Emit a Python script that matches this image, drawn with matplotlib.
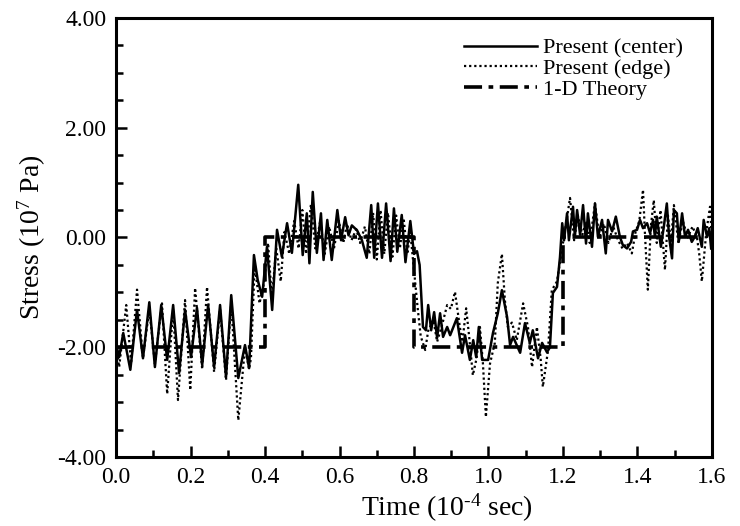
import matplotlib
matplotlib.use("Agg")
import matplotlib.pyplot as plt
from matplotlib.ticker import MultipleLocator

plt.rcParams['font.family'] = ['Liberation Serif', 'DejaVu Serif']
plt.rcParams['mathtext.fontset'] = 'custom'
plt.rcParams['mathtext.rm'] = 'Liberation Serif'
plt.rcParams['mathtext.it'] = 'Liberation Serif:italic'
plt.rcParams['axes.unicode_minus'] = False

# Present (center)
t_center = [0.0, 0.008, 0.019, 0.038, 0.056, 0.072, 0.089, 0.104, 0.121, 0.137, 0.153, 0.169,
            0.185, 0.201, 0.217, 0.231, 0.247, 0.263, 0.279, 0.295, 0.309, 0.328, 0.346, 0.357,
            0.370, 0.380, 0.392, 0.405, 0.419, 0.432, 0.445, 0.459, 0.472, 0.489, 0.501, 0.512,
            0.519, 0.528, 0.539, 0.550, 0.557, 0.567, 0.579, 0.594, 0.604, 0.615, 0.624, 0.633,
            0.647, 0.660, 0.673, 0.685, 0.693, 0.703, 0.714, 0.725, 0.737, 0.746, 0.755, 0.767,
            0.777, 0.790, 0.800, 0.808, 0.815, 0.824,
            0.832, 0.838, 0.846, 0.854, 0.862, 0.870, 0.878, 0.889, 0.897, 0.915, 0.929, 0.937,
            0.950, 0.959, 0.967, 0.974, 0.983, 0.999, 1.012, 1.025, 1.036, 1.050, 1.058, 1.066,
            1.085, 1.098, 1.111, 1.119, 1.133, 1.144, 1.157, 1.165, 1.173, 1.184, 1.192, 1.198,
            1.203, 1.211, 1.216, 1.227, 1.232, 1.238, 1.246, 1.254, 1.262, 1.267, 1.278, 1.286,
            1.294, 1.305, 1.315, 1.321, 1.332, 1.342, 1.353, 1.361, 1.372, 1.383, 1.388, 1.399,
            1.407, 1.415, 1.426, 1.434, 1.442, 1.447, 1.452, 1.463, 1.471, 1.479, 1.485, 1.493,
            1.498, 1.506, 1.511, 1.520, 1.528, 1.536, 1.546, 1.554, 1.562, 1.573, 1.578, 1.587,
            1.593, 1.598]
s_center = [-1.95, -2.18, -1.74, -2.41, -1.32, -2.20, -1.18, -2.36, -1.23, -2.23, -1.23, -2.47,
            -1.32, -2.18, -1.28, -2.32, -1.23, -2.36, -1.23, -2.54, -1.05, -2.56, -1.96, -2.38,
            -0.32, -0.77, -1.08, -0.17, -1.32, 0.14, -0.35, 0.26, -0.28, 0.96, -0.32, 0.44,
            -0.47, 0.83, -0.28, 0.44, -0.41, 0.32, -0.41, 0.50, -0.05, 0.37, 0.04, 0.22,
            0.13, -0.05, -0.37, 0.59, -0.37, 0.62, -0.37, 0.62, -0.43, 0.53, -0.26, 0.41,
            -0.45, 0.30, -0.30, -0.25, -0.50, -1.63,
            -1.69, -1.23, -1.69, -1.36, -1.83, -1.38, -1.81, -1.63, -1.78, -1.47, -2.10, -1.78,
            -2.23, -1.87, -2.18, -1.63, -2.23, -2.23, -1.74, -1.38, -0.96, -1.45, -1.96, -1.81,
            -2.10, -1.56, -1.92, -1.69, -2.20, -1.92, -2.09, -2.00, -1.01, -0.90, -0.36, 0.26,
            -0.05, 0.44, -0.05, 0.56, 0.01, 0.50, 0.05, 0.59, -0.11, 0.44, -0.17, 0.62,
            0.01, 0.32, -0.29, 0.32, 0.11, 0.38, 0.01, -0.14, -0.20, -0.08, 0.11, 0.14,
            0.32, 0.17, 0.26, 0.08, 0.32, 0.01, 0.38, -0.17, 0.20, 0.62, 0.01, -0.38,
            0.50, 0.44, -0.08, 0.44, 0.01, 0.14, -0.08, 0.01, 0.17, -0.17, 0.32, 0.01,
            0.17, -0.20]

# Present (edge)
t_edge = [0.0, 0.008, 0.027, 0.040, 0.056, 0.072, 0.089, 0.104, 0.123, 0.137, 0.153, 0.166,
          0.185, 0.199, 0.212, 0.231, 0.244, 0.263, 0.279, 0.295, 0.309, 0.328, 0.346, 0.357,
          0.362, 0.372, 0.385, 0.398, 0.408, 0.418, 0.430, 0.442, 0.452, 0.465, 0.478, 0.490,
          0.500, 0.510, 0.523, 0.535, 0.548, 0.560, 0.572, 0.585, 0.598, 0.610, 0.620, 0.632,
          0.645, 0.655, 0.668, 0.680, 0.690, 0.700, 0.710, 0.720, 0.730, 0.742, 0.752, 0.762,
          0.772, 0.782, 0.790, 0.800, 0.810, 0.818,
          0.830, 0.838, 0.852, 0.862, 0.875, 0.889, 0.899, 0.910, 0.923, 0.930, 0.940, 0.948,
          0.958, 0.968, 0.977, 0.985, 0.993, 1.004, 1.017, 1.025, 1.036, 1.044, 1.052, 1.063,
          1.076, 1.093, 1.106, 1.117, 1.130, 1.140, 1.146, 1.160, 1.170, 1.184, 1.197,
          1.205, 1.219, 1.230, 1.240, 1.252, 1.262, 1.272, 1.286, 1.298, 1.310, 1.322, 1.335,
          1.348, 1.360, 1.372, 1.385, 1.395, 1.405, 1.415, 1.420, 1.428, 1.436, 1.444, 1.452,
          1.462, 1.474, 1.482, 1.490, 1.498, 1.510, 1.522, 1.535, 1.548, 1.560, 1.566, 1.573,
          1.585, 1.595, 1.600]
s_edge = [-2.00, -2.36, -1.23, -2.30, -0.95, -2.20, -1.30, -2.30, -1.20, -2.85, -1.30, -2.96,
          -1.14, -2.78, -0.92, -2.40, -0.90, -2.45, -1.30, -2.60, -1.20, -3.33, -2.00, -2.40,
          -2.20, -0.50, -1.20, -0.80, -0.10, -1.10, -0.20, -0.80, 0.10, -0.30, 0.30, -0.20,
          0.50, -0.30, 0.60, -0.20, 0.30, -0.30, 0.20, -0.20, 0.30, -0.10, 0.25, -0.05,
          0.15, -0.10, 0.20, -0.30, 0.45, -0.40, 0.50, -0.30, 0.45, -0.35, 0.40, -0.20,
          0.35, -0.30, 0.10, -0.60, -1.30, -1.80,
          -2.05, -1.70, -1.50, -1.90, -1.60, -1.23, -1.30, -0.99, -1.63, -1.90, -1.29, -1.80,
          -2.51, -2.20, -1.63, -2.29, -3.27, -2.30, -1.92, -0.83, -0.30, -1.14, -1.63, -1.55,
          -1.87, -1.20, -1.63, -2.36, -1.63, -2.20, -2.72, -2.05, -0.96, -0.80, -0.23,
          0.10, 0.72, -0.05, 0.40, 0.05, 0.30, -0.10, 0.62, 0.00, 0.25, -0.10, 0.20,
          -0.05, -0.20, -0.10, -0.29, 0.10, 0.30, 0.87, 0.10, -0.95, 0.20, 0.68, -0.10,
          0.50, -0.59, 0.40, -0.10, 0.59, -0.10, 0.30, 0.00, 0.20, 0.00, -0.30, -0.80,
          0.10, 0.56, -0.05]

# 1-D Theory
t_theory = [0.0, 0.4, 0.4, 0.8, 0.8, 1.2, 1.2, 1.58]
s_theory = [-2.0, -2.0, 0.0, 0.0, -2.0, -2.0, 0.0, 0.0]

fig = plt.figure(figsize=(7.4, 5.26), dpi=100)
ax = fig.add_axes([0.157, 0.131, 0.805, 0.835])

ax.plot(t_center, s_center, color='black', lw=1.8, ls='-', label='Present (center)')
ax.plot(t_edge, s_edge, color='black', lw=1.6, ls=(0, (1, 1.3)), label='Present (edge)')
ax.plot(t_theory, s_theory, color='black', lw=2.6, ls=(0, (5, 1.8, 1.3, 1.8)), label='1-D Theory')

ax.set_xlim(0, 1.6)
ax.set_ylim(-4, 4)
ax.xaxis.set_major_locator(MultipleLocator(0.2))
ax.xaxis.set_minor_locator(MultipleLocator(0.1))
ax.yaxis.set_major_locator(MultipleLocator(2.0))
ax.yaxis.set_minor_locator(MultipleLocator(0.5))
ax.xaxis.set_major_formatter(plt.FuncFormatter(lambda v, p: f"{v:.1f}"))
ax.yaxis.set_major_formatter(plt.FuncFormatter(lambda v, p: f"{v:.2f}"))
ax.tick_params(which='both', direction='in', top=False, right=False, labelsize=17, width=1.8)
ax.tick_params(which='major', length=8, pad=7)
ax.tick_params(which='minor', length=5)
for sp in ax.spines.values():
    sp.set_linewidth(2.2)

ax.set_xlabel(r"Time (10$^{\text{-}4}$ sec)", fontsize=20)
ax.xaxis.set_label_coords(0.555, -0.078)
ax.set_ylabel(r"Stress (10$^{7}$ Pa)", fontsize=20, labelpad=7)

ax.legend(loc='upper right', bbox_to_anchor=(0.985, 1.0), frameon=False, fontsize=16,
          handlelength=3.3, handletextpad=0.25, labelspacing=0.0)

fig.savefig("out.png", dpi=100)
